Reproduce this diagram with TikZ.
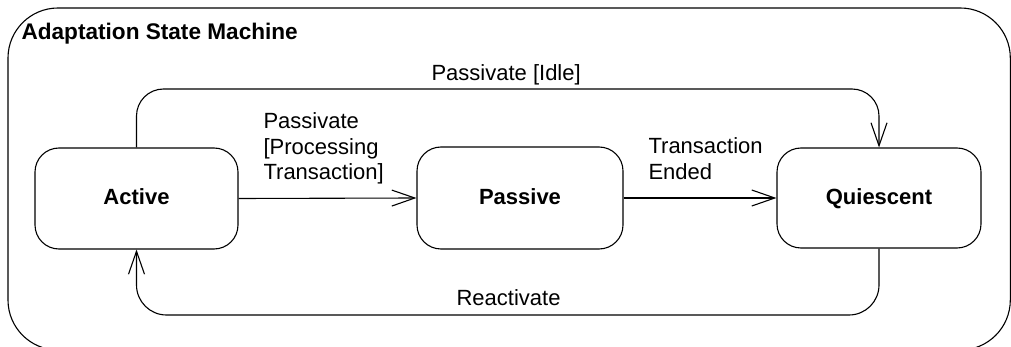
\documentclass[tikz,border=0pt]{standalone}
\usepackage{fontspec}
\setmainfont{Liberation Sans}
\usetikzlibrary{arrows.meta}
\begin{document}
\begin{tikzpicture}[x=1pt,y=-1pt, line width=1.1pt,
  state/.style={draw, rounded corners=24pt, font=\bfseries\fontsize{22}{26}\selectfont, inner sep=0pt, text height=13pt, text depth=0pt},
  lbl/.style={font=\fontsize{22}{25.5}\selectfont, inner sep=0pt, align=left},
  arr/.style={-{Straight Barb[length=23pt,width=16pt,line width=1.1pt]}}]
\useasboundingbox (0,0) rectangle (1011,347);
\begin{scope}
\clip (0,0) rectangle (1011,347);
\draw[rounded corners=50pt] (8,8) rectangle (1010.3,350);
\end{scope}
\node[lbl, font=\bfseries\fontsize{22.6}{26}\selectfont, anchor=base west] (title) at (21,40) {Adaptation State Machine};

\node[state, minimum width=203pt, minimum height=101pt] (a) at (136.5,198.5) {Active};
\node[state, minimum width=206pt, minimum height=102pt] (p) at (520,198) {Passive};
\node[state, minimum width=204pt, minimum height=100pt] (q) at (879,198) {Quiescent};

\coordinate (ty) at (0,89);
\coordinate (by) at (0,315);

\draw[arr] (a.east) -- (p.west);
\draw[arr] (p.east) -- (q.west);
\draw[arr, rounded corners=27pt] (a.north) -- (a.north |- ty) -| (q.north);
\draw[arr, rounded corners=30pt] (q.south) -- (q.south |- by) -| (a.south);

\node[lbl, anchor=base west] (l1) at (431,81) {Passivate [Idle]};
\node[lbl, anchor=north west] (l2) at (263,112.3) {Passivate\\{[}Processing\\Transaction]};
\node[lbl, anchor=north west] (l3) at (648,137.3) {Transaction\\Ended};
\node[lbl, anchor=base west] (l4) at (456,305) {Reactivate};
\end{tikzpicture}
\end{document}
